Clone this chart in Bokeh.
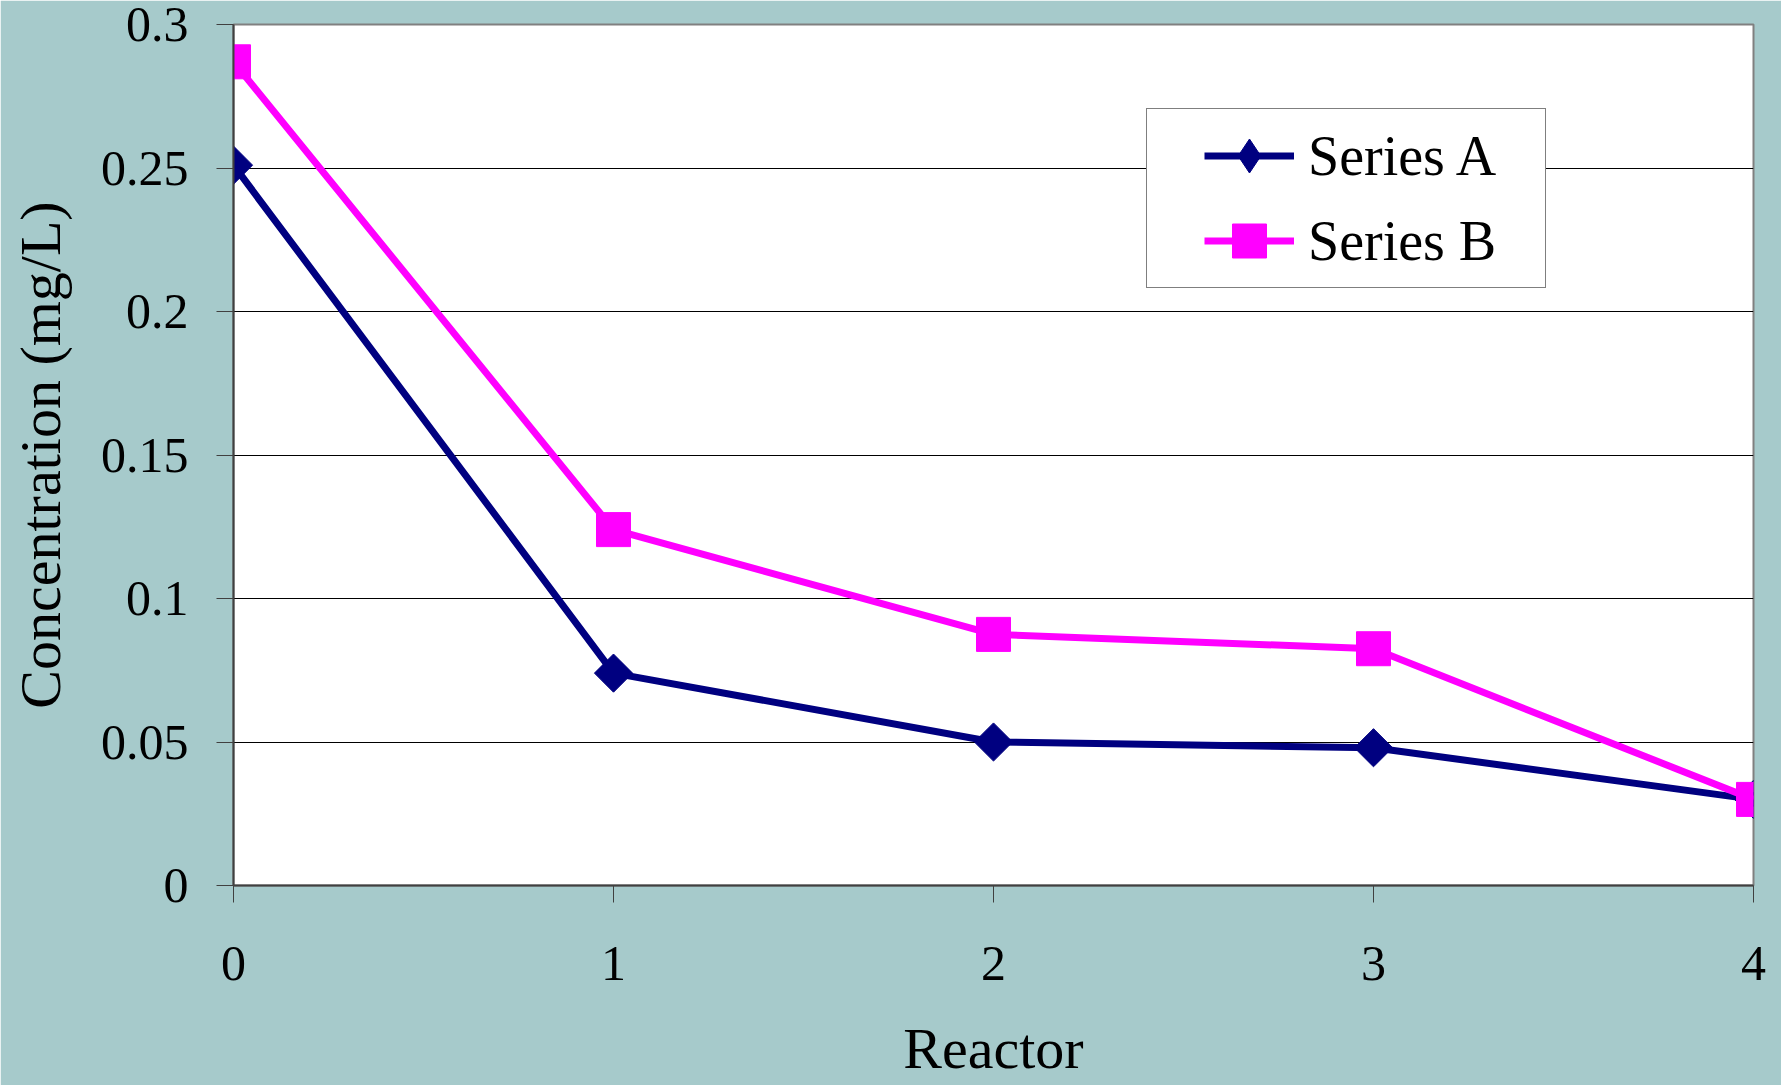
from bokeh.plotting import figure
from bokeh.models import Legend, LegendItem, FixedTicker, Range1d
from bokeh.embed import file_html
from bokeh.resources import INLINE
import math

reactor = [0, 1, 2, 3, 4]
series_a = [0.251, 0.074, 0.050, 0.048, 0.030]
series_b = [0.287, 0.124, 0.0875, 0.0825, 0.030]
y_ticks = [0, 0.05, 0.1, 0.15, 0.2, 0.25, 0.3]
y_tick_labels = ["0", "0.05", "0.1", "0.15", "0.2", "0.25", "0.3"]
x_ticks = [0, 1, 2, 3, 4]
x_tick_labels = ["0", "1", "2", "3", "4"]

BG = "#A6CACB"
FONT = "Liberation Serif"
NAVY = "#000080"
MAGENTA = "#FF00FF"

p = figure(width=1781, height=1085, output_backend="svg", toolbar_location=None,
           x_range=Range1d(0, 4), y_range=Range1d(0, 0.3),
           min_border_left=233, min_border_right=28, min_border_top=24, min_border_bottom=200)
p.background_fill_color = "white"
p.border_fill_color = BG
p.outline_line_color = "#808080"
p.outline_line_width = 2

p.xgrid.grid_line_color = None
p.ygrid.grid_line_color = "black"
p.ygrid.grid_line_width = 1
p.ygrid.ticker = FixedTicker(ticks=y_ticks)

for ax in (p.xaxis[0], p.yaxis[0]):
    ax.axis_line_color = "#404040"
    ax.axis_line_width = 2
    ax.major_tick_line_color = "#404040"
    ax.major_tick_line_width = 1
    ax.major_tick_out = 17
    ax.major_tick_in = 0
    ax.minor_tick_line_color = None
    ax.major_label_text_font = FONT
    ax.major_label_text_font_size = "50px"
    ax.major_label_text_color = "black"
    ax.axis_label_text_font = FONT
    ax.axis_label_text_font_size = "58px"
    ax.axis_label_text_font_style = "normal"
    ax.axis_label_text_color = "black"

p.xaxis.ticker = FixedTicker(ticks=x_ticks)
p.xaxis.major_label_overrides = {t: l for t, l in zip(x_ticks, x_tick_labels)}
p.xaxis.major_label_standoff = 44
p.xaxis.major_label_text_line_height = 0.9
p.xaxis.axis_label = "Reactor"
p.xaxis.axis_label_standoff = 33
p.xaxis.axis_label_text_line_height = 0.9

p.yaxis.ticker = FixedTicker(ticks=y_ticks)
p.yaxis.major_label_overrides = {t: l for t, l in zip(y_ticks, y_tick_labels)}
p.yaxis.major_label_standoff = 28
p.yaxis.axis_label = "Concentration (mg/L)"
p.yaxis.axis_label_standoff = 25

la = p.line(reactor, series_a, line_color=NAVY, line_width=7)
# small diamond hidden under the rotated squares; it supplies the legend's diamond glyph
ma_leg = p.scatter(reactor, series_a, marker="diamond", size=14,
                   fill_color=NAVY, line_color=NAVY)
ma = p.scatter(reactor, series_a, marker="square", size=27, angle=math.pi / 4,
               fill_color=NAVY, line_color=NAVY)
lb = p.line(reactor, series_b, line_color=MAGENTA, line_width=7)
mb = p.scatter(reactor, series_b, marker="square", size=34,
               fill_color=MAGENTA, line_color=MAGENTA)

legend = Legend(items=[LegendItem(label="Series A", renderers=[la, ma_leg]),
                       LegendItem(label="Series B", renderers=[lb, mb])],
                location=(913, 597))
legend.title = " "
legend.title_location = "left"
legend.title_text_font_size = "20px"
legend.title_standoff = 30
legend.label_text_font = FONT
legend.label_text_font_size = "56px"
legend.label_text_color = "black"
legend.glyph_width = 90
legend.glyph_height = 85
legend.label_height = 85
legend.label_standoff = 14
legend.spacing = -5
legend.padding = 4
legend.margin = 0
legend.label_width = 233
legend.border_line_color = "black"
legend.border_line_width = 1
legend.background_fill_color = "white"
legend.background_fill_alpha = 1
p.add_layout(legend, "center")

open("out.html", "w").write(file_html(p, INLINE))
